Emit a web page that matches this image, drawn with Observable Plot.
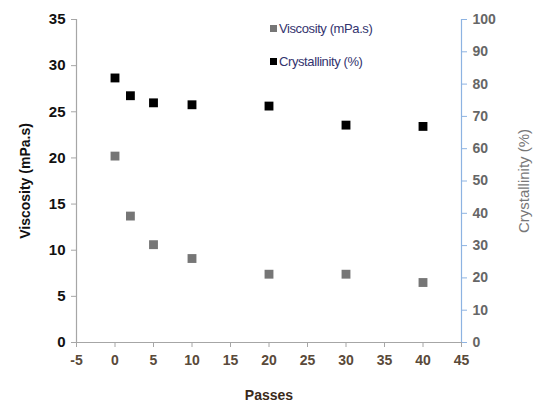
<!DOCTYPE html>
<html>
<head>
<meta charset="utf-8">
<script src="https://cdn.jsdelivr.net/npm/d3@7"></script>
<script src="https://cdn.jsdelivr.net/npm/@observablehq/plot@0.6"></script>
<style>
  html, body { margin: 0; padding: 0; background: #fff; }
  #wrap { position: relative; width: 538px; height: 409px; font-family: "Liberation Sans", Arial, sans-serif; }
  .leg { position: absolute; font-size: 13px; color: #33336e; display: flex; align-items: center; letter-spacing: -0.4px; }
  .sw { width: 7px; height: 7px; display: inline-block; margin-right: 2px; }
</style>
</head>
<body>
<div id="wrap"></div>
<script>
const passes = [0, 2, 5, 10, 20, 30, 40];
const viscosity = [20.2, 13.7, 10.6, 9.1, 7.4, 7.4, 6.5];
const crystallinity = [81.9, 76.4, 74.2, 73.6, 73.2, 67.3, 66.9];
const xTicks = [-5, 0, 5, 10, 15, 20, 25, 30, 35, 40, 45];
const viscTicks = [0, 5, 10, 15, 20, 25, 30, 35];
const crystTicks = [0, 10, 20, 30, 40, 50, 60, 70, 80, 90, 100];
const viscMax = 35, crystMax = 100;
const k = viscMax / crystMax;

const viscData = passes.map((p, i) => ({p, v: viscosity[i]}));
const crystData = passes.map((p, i) => ({p, v: crystallinity[i] * k}));

const chart = Plot.plot({
  width: 538, height: 409,
  marginTop: 19, marginBottom: 67, marginLeft: 76, marginRight: 77,
  style: {fontFamily: "Liberation Sans, Arial, sans-serif", background: "#fff"},
  x: {domain: [-5, 45]},
  y: {domain: [0, viscMax]},
  marks: [
    Plot.ruleX([-5], {stroke: "#a6a6a6", strokeWidth: 1.2}),
    Plot.ruleX([45], {stroke: "#8db3e2", strokeWidth: 1.2}),
    Plot.ruleY([0], {stroke: "#a6a6a6", strokeWidth: 1.2}),
    Plot.axisY(viscTicks, {anchor: "left", tickSize: 5, stroke: "#a6a6a6", tickPadding: 6,
      tickFormat: d => String(d),
      fontSize: 15, fontWeight: "bold", fill: "#111", label: "Viscosity (mPa.s)",
      labelAnchor: "center", labelOffset: 56, labelArrow: "none"}),
    Plot.axisY(crystTicks.map(t => t * k), {anchor: "right", tickSize: 5, stroke: "#8db3e2", tickPadding: 6,
      tickFormat: d => String(Math.round(d / k)), fontSize: 14, fontWeight: "bold", fill: "#666",
      label: "Crystallinity (%)", labelAnchor: "center", labelOffset: 67, labelArrow: "none"}),
    Plot.axisX(xTicks, {anchor: "bottom", tickSize: 5, stroke: "#a6a6a6", tickPadding: 8,
      tickFormat: d => String(d),
      fontSize: 14, fill: "#5a4a3a", fontWeight: "bold",
      label: "Passes", labelAnchor: "center", labelOffset: 57, labelArrow: "none"}),
    Plot.dot(viscData, {x: "p", y: "v", symbol: "square", r: 5, fill: "#767676", stroke: "none"}),
    Plot.dot(crystData, {x: "p", y: "v", symbol: "square", r: 5, fill: "#000", stroke: "none"})
  ]
});
const wrap = document.getElementById("wrap");
wrap.appendChild(chart);
// style axis titles
const labels = chart.querySelectorAll("g[aria-label='y-axis label'] text");
labels.forEach((t, i) => {
  t.setAttribute("font-size", "14");
  if (i === 0) { t.setAttribute("font-weight", "bold"); t.setAttribute("fill", "#111"); }
  else { t.setAttribute("font-weight", "normal"); t.setAttribute("fill", "#777"); t.setAttribute("font-size", "15"); }
});
chart.querySelectorAll("g[aria-label='x-axis label'] text").forEach(t => {
  t.setAttribute("font-weight", "bold");
  t.setAttribute("font-size", "14");
  t.setAttribute("fill", "#3a2a1a");
});

const legend = [
  {label: "Viscosity (mPa.s)", color: "#767676", top: 21},
  {label: "Crystallinity (%)", color: "#000", top: 54}
];
legend.forEach(l => {
  const d = document.createElement("div");
  d.className = "leg";
  d.style.left = "270px"; d.style.top = l.top + "px";
  d.innerHTML = `<span class="sw" style="background:${l.color}"></span>${l.label}`;
  wrap.appendChild(d);
});
</script>
</body>
</html>
